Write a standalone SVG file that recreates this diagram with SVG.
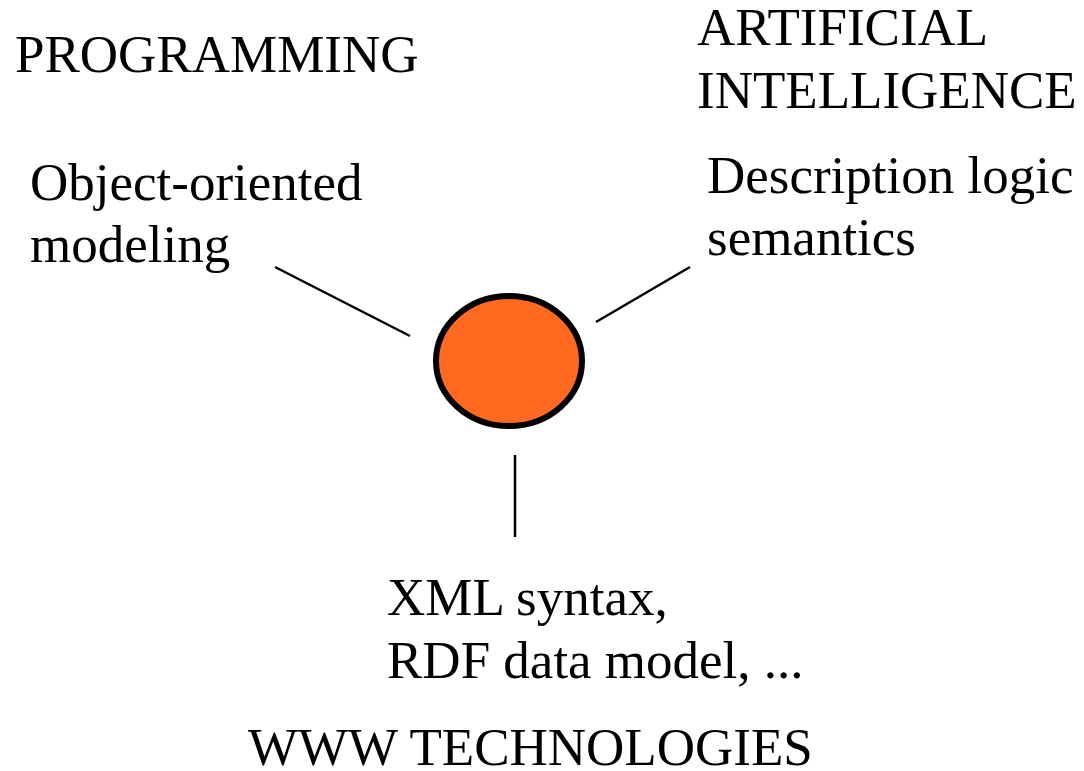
<svg xmlns="http://www.w3.org/2000/svg" width="1084" height="771" viewBox="0 0 1084 771">
  <style>
    text { font-family: "Liberation Serif", "Times New Roman", serif; font-size: 53px; fill: #000; }
    .link { stroke: #000; stroke-width: 2.5; fill: none; }
    .hub { fill: #FF6A20; stroke: #000; stroke-width: 6; }
  </style>
  <rect width="1084" height="771" fill="#fff"/>

  <g id="connectors">
    <line class="link" x1="275" y1="267" x2="410" y2="336"/>
    <line class="link" x1="596" y1="322" x2="690" y2="267"/>
    <line class="link" x1="515" y1="455" x2="515" y2="537"/>
  </g>

  <g id="hub">
    <ellipse class="hub" cx="509" cy="361" rx="73" ry="65"/>
  </g>

  <g id="programming">
    <text x="15" y="72">PROGRAMMING</text>
    <text x="30" y="200">Object-oriented</text>
    <text x="30" y="262">modeling</text>
  </g>

  <g id="artificial-intelligence">
    <text x="697" y="45">ARTIFICIAL</text>
    <text x="697" y="108">INTELLIGENCE</text>
    <text x="707" y="193">Description logic</text>
    <text x="707" y="255">semantics</text>
  </g>

  <g id="www-technologies">
    <text x="387" y="615">XML syntax,</text>
    <text x="387" y="678">RDF data model, ...</text>
    <text x="248" y="765">WWW TECHNOLOGIES</text>
  </g>
</svg>
